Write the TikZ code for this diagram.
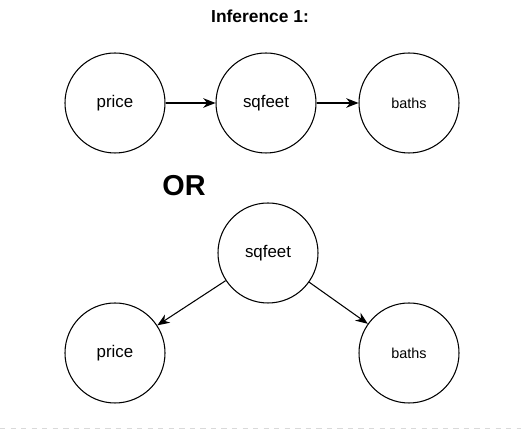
\documentclass[tikz,border=0pt]{standalone}
\usepackage{fontspec}
\setmainfont{Liberation Sans}
\usetikzlibrary{arrows.meta, positioning}

\begin{document}
\begin{tikzpicture}[
  var/.style={circle, draw, line width=0.6pt, minimum size=2cm, inner sep=0pt, font=\fontsize{9.6}{11}\selectfont, text centered},
  smallvar/.style={var, font=\fontsize{8.2}{10}\selectfont},
  edge/.style={->, line width=0.6pt},
  >={Stealth[length=7pt, width=5.5pt]}
]
  \useasboundingbox (0,0) rectangle (10.42,8.58);

  \node[font=\bfseries\fontsize{9.9}{12}\selectfont] (title) at (5.20,8.26) {Inference 1:};

  % chain
  \node[var]      (price1)  at (2.30,6.52) {price};
  \node[var]      (sqfeet1) at (5.32,6.52) {sqfeet};
  \node[smallvar] (baths1)  at (8.18,6.52) {baths};

  \draw[edge] (price1) -- (sqfeet1);
  \draw[edge] (sqfeet1) -- (baths1);

  \node[font=\bfseries\fontsize{16.4}{18}\selectfont] (or) at (3.68,4.86) {OR};

  % common cause
  \node[var]      (sqfeet2) at (5.36,3.52) {sqfeet};
  \node[var]      (price2)  at (2.30,1.52) {price};
  \node[smallvar] (baths2)  at (8.18,1.52) {baths};

  \draw[edge] (sqfeet2) -- (price2);
  \draw[edge] (sqfeet2) -- (baths2);

  \coordinate (pageL) at (0,0.02);
  \coordinate (pageR) at (10.42,0.02);
  \draw[gray!30, dashed, line width=0.5pt] (pageL) -- (pageR);
\end{tikzpicture}
\end{document}
